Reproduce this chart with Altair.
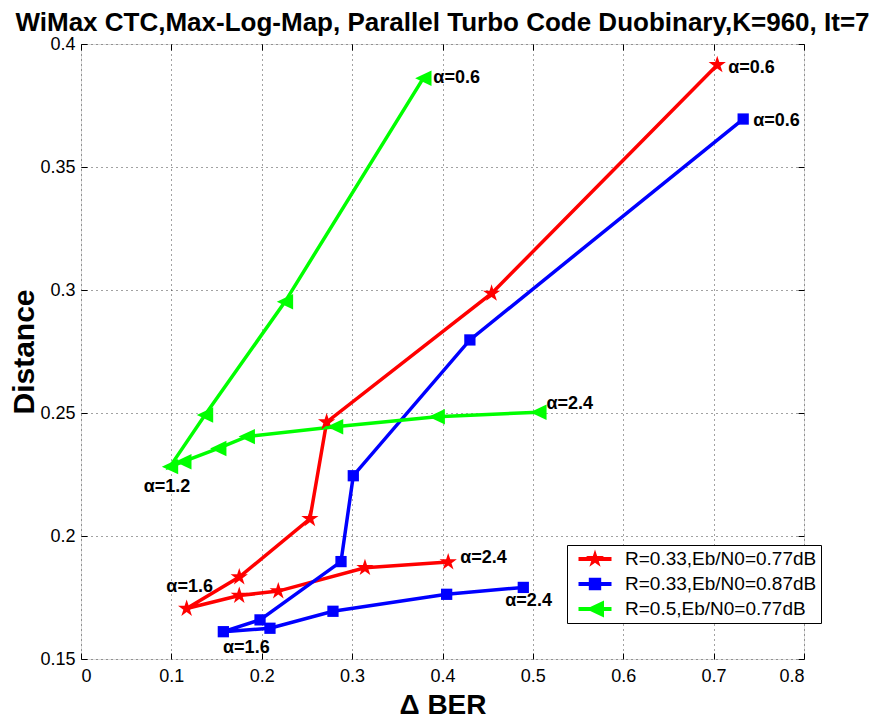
import math
import altair as alt
import pandas as pd

# ---------------- data ----------------
series_names = ["R=0.33,Eb/N0=0.77dB", "R=0.33,Eb/N0=0.87dB", "R=0.5,Eb/N0=0.77dB"]
alphas = [0.6, 0.8, 1.0, 1.2, 1.4, 1.6, 1.8, 2.0, 2.2, 2.4]

red_x = [0.704, 0.4543, 0.2718, 0.2533, 0.1751, 0.1169, 0.1751, 0.2183, 0.3142, 0.4063]
red_y = [0.3915, 0.2986, 0.2463, 0.2070, 0.1833, 0.1705, 0.1758, 0.1776, 0.1871, 0.1894]

blue_x = [0.7327, 0.4303, 0.3013, 0.2877, 0.1981, 0.1575, 0.2091, 0.2788, 0.4046, 0.4894]
blue_y = [0.3695, 0.2797, 0.2245, 0.1896, 0.1659, 0.1611, 0.1625, 0.1694, 0.1763, 0.1791]

green_x = [0.3788, 0.2257, 0.1372, 0.0985, 0.1132, 0.1519, 0.1834, 0.2811, 0.3936, 0.5061]
green_y = [0.3861, 0.2952, 0.2492, 0.2282, 0.2302, 0.2356, 0.2404, 0.2444, 0.2485, 0.2503]

x_ticks = [0, 0.1, 0.2, 0.3, 0.4, 0.5, 0.6, 0.7, 0.8]
y_ticks = [0.15, 0.2, 0.25, 0.3, 0.35, 0.4]

title_text = "WiMax CTC,Max-Log-Map, Parallel Turbo Code Duobinary,K=960, It=7"
x_title = "\u0394 BER"
y_title = "Distance"

colors = ["#ff0000", "#0000ff", "#00ff00"]

# ---------------- table ----------------
rows = []
for s, (xs_, ys_) in enumerate([(red_x, red_y), (blue_x, blue_y), (green_x, green_y)]):
    for k, (xv, yv) in enumerate(zip(xs_, ys_)):
        rows.append({"series": series_names[s], "k": k, "x": xv, "y": yv,
                     "alpha": alphas[k], "label": "\u03b1=%.1f" % alphas[k]})
df = pd.DataFrame(rows)

# ---------------- marker geometry ----------------
def star_path(r_out, r_in_ratio=0.382):
    pts = []
    for i in range(10):
        ang = math.radians(-90 + 36 * i)
        r = r_out if i % 2 == 0 else r_out * r_in_ratio
        pts.append((r * math.cos(ang), r * math.sin(ang)))
    return "M" + "L".join("%.3f,%.3f" % p for p in pts) + "Z"

def square_path(h):
    return "M%.3f,%.3fH%.3fV%.3fH%.3fZ" % (-h, -h, h, h, -h)

def tri_left_path(w, h):
    return "M%.3f,0L%.3f,%.3fL%.3f,%.3fZ" % (-w, w, -h, w, h)

line_seg = "M-1.65,-0.2H1.65V0.2H-1.65Z"

plot_shapes = [star_path(1.0), square_path(0.62), tri_left_path(0.9, 0.85)]
legend_shapes = [line_seg + star_path(0.95), line_seg + square_path(0.62),
                 line_seg + tri_left_path(0.9, 0.85)]

W, H = 723, 615
xs = alt.Scale(domain=[0, 0.8], nice=False, zero=False)
ys = alt.Scale(domain=[0.15, 0.4], nice=False, zero=False)
font = "Liberation Sans"

def inner_axis(orient):
    return alt.Axis(orient=orient, values=x_ticks if orient in ("top", "bottom") else y_ticks,
                    offset=-6, tickSize=6, ticks=True, tickColor="black", tickWidth=1,
                    labels=False, domain=False, grid=False, title=None)

base = alt.Chart(df)

lines = base.mark_line(strokeWidth=3.5).encode(
    x=alt.X("x:Q", scale=xs,
            axis=alt.Axis(values=x_ticks, format=".1~f", grid=True, ticks=False, domain=False,
                          labelFontSize=18, labelFont=font, labelColor="black", labelPadding=8,
                          title=x_title, titleFontSize=28, titleFont=font, titleFontWeight="bold",
                          titleColor="black", titlePadding=6,
                          gridColor="#444", gridDash=[1, 4], gridWidth=1)),
    y=alt.Y("y:Q", scale=ys,
            axis=alt.Axis(values=y_ticks, format=".2~f", grid=True, ticks=False, domain=False,
                          labelFontSize=18, labelFont=font, labelColor="black", labelPadding=6,
                          title=y_title, titleFontSize=30, titleFont=font, titleFontWeight="bold",
                          titleColor="black", titlePadding=0,
                          gridColor="#444", gridDash=[1, 4], gridWidth=1)),
    color=alt.Color("series:N", scale=alt.Scale(domain=series_names, range=colors), legend=None),
    detail="series:N",
    order="k:Q",
)

points = base.mark_point(filled=True, opacity=1, size=330).encode(
    x=alt.X("x:Q", scale=xs, axis=inner_axis("top")),
    y=alt.Y("y:Q", scale=ys, axis=inner_axis("right")),
    color=alt.Color("series:N", scale=alt.Scale(domain=series_names, range=colors), legend=None),
    shape=alt.Shape("series:N", scale=alt.Scale(domain=series_names, range=plot_shapes), legend=None),
)

legend_layer = base.transform_filter("false").mark_point(filled=True, opacity=1, size=400).encode(
    x=alt.X("x:Q", scale=xs, axis=inner_axis("bottom")),
    y=alt.Y("y:Q", scale=ys, axis=inner_axis("left")),
    color=alt.Color("series:N", scale=alt.Scale(domain=series_names, range=colors),
                    legend=alt.Legend(title=None, orient="none", legendX=486, legendY=501,
                                      symbolSize=400, symbolOffset=14, labelOffset=20,
                                      labelFontSize=19, labelFont=font, labelColor="black",
                                      padding=4, rowPadding=5, fillColor="white",
                                      strokeColor="black", symbolStrokeWidth=0,
                                      labelLimit=400)),
    shape=alt.Shape("series:N", scale=alt.Scale(domain=series_names, range=legend_shapes)),
)

# label placement: (series index, alpha index, align, dx, dy)
label_specs = [
    (0, 0, "left", 11, 3), (1, 0, "left", 10, 2), (2, 0, "left", 10, 0),
    (2, 9, "left", 8, -8), (0, 9, "left", 12, -4), (1, 9, "left", -18, 14),
    (2, 3, "center", -3, 20), (0, 5, "center", 3, -22), (1, 5, "center", 23, 16),
]
texts = []
for s, k, al, dx, dy in label_specs:
    texts.append(
        base.transform_filter((alt.datum.series == series_names[s]) & (alt.datum.k == k))
        .mark_text(align=al, baseline="middle", dx=dx, dy=dy, fontSize=18, fontWeight="bold",
                   font=font, color="black")
        .encode(x=alt.X("x:Q", scale=xs, axis=None), y=alt.Y("y:Q", scale=ys, axis=None),
                text="label:N")
    )

chart = alt.layer(lines, points, legend_layer, *texts).resolve_scale(
    color="independent", shape="independent"
).resolve_axis(x="independent", y="independent").properties(
    width=W, height=H,
    title=alt.Title(title_text, fontSize=26, font=font, fontWeight="bold", color="black",
                    anchor="middle", offset=0, dy=1),
    autosize=alt.AutoSizeParams(type="none"),
    padding={"left": 73, "top": 36, "right": 70, "bottom": 66},
).configure_view(stroke="black", strokeWidth=1.2).configure(background="white")

chart.save("out.html", embed_options={"renderer": "svg", "actions": False})
